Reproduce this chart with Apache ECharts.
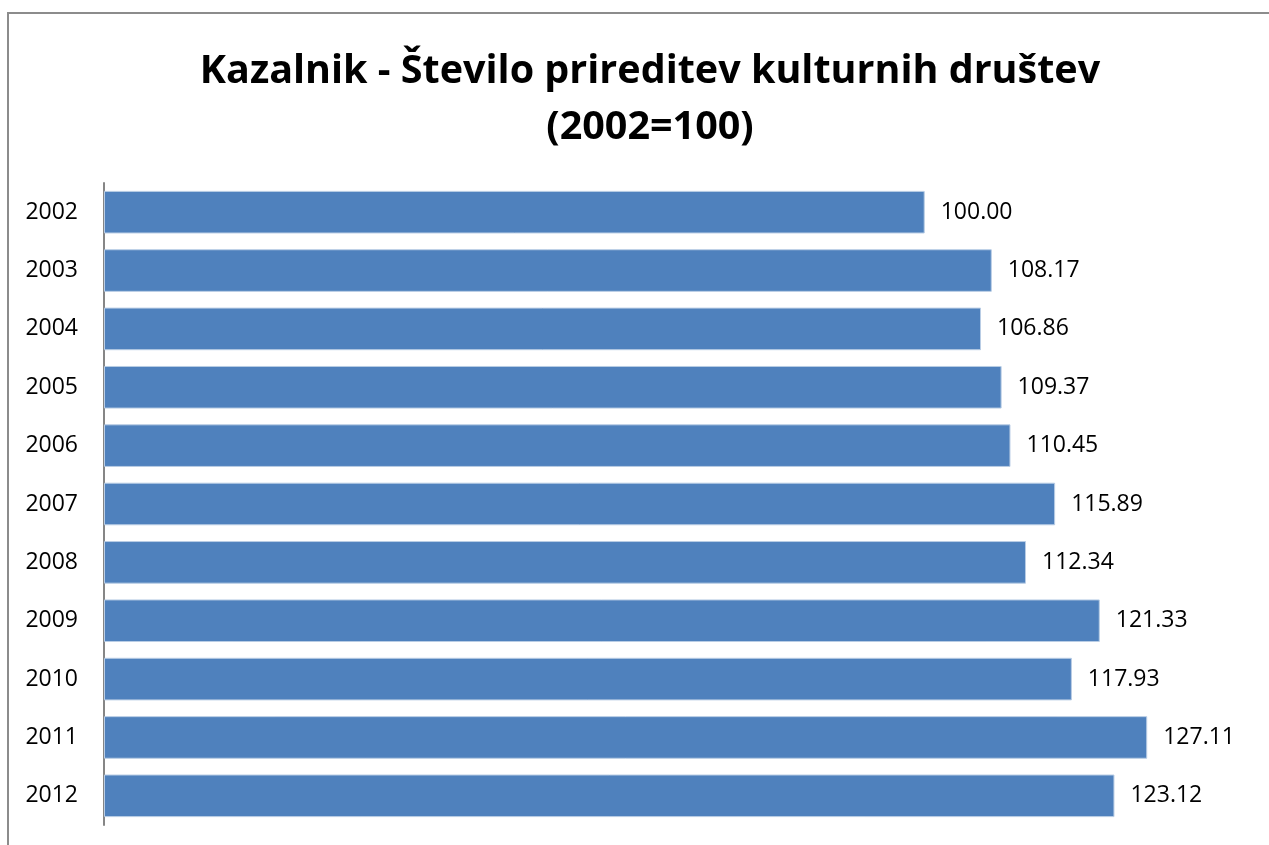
<!DOCTYPE html>
<html>
<head>
<meta charset="utf-8">
<script src="https://cdn.jsdelivr.net/npm/echarts@6/dist/echarts.min.js"></script>
<style>
html, body { margin: 0; padding: 0; background: #fff; }
#chart { width: 1269px; height: 845px; }
</style>
</head>
<body>
<div id="chart"></div>
<script>
// categories (years), top to bottom
var years = ['2002', '2003', '2004', '2005', '2006', '2007', '2008', '2009', '2010', '2011', '2012'];
// index values, 2002 = 100
var indexValues = [100.00, 108.17, 106.86, 109.37, 110.45, 115.89, 112.34, 121.33, 117.93, 127.11, 123.12];

var titleLines = ['Kazalnik - Število prireditev kulturnih društev', '(2002=100)'];

var chart = echarts.init(document.getElementById('chart'));

var option = {
	animation: false,
	title: {
		text: titleLines.join('\n'),
		left: 645,
		textAlign: 'center',
		top: 39,
		textStyle: {
			fontFamily: 'Open Sans',
			fontWeight: 'bold',
			fontSize: 39.5,
			lineHeight: 56,
			color: '#000'
		}
	},
	graphic: [{
		type: 'rect',
		shape: { x: 8, y: 13, width: 1300, height: 900 },
		style: { fill: 'none', stroke: '#8c8c8c', lineWidth: 2 },
		silent: true
	}],
	grid: { left: 104, right: 16, top: 183, bottom: 20, containLabel: false },
	xAxis: {
		type: 'value',
		min: 0,
		max: 140,
		show: false
	},
	yAxis: {
		type: 'category',
		data: years,
		inverse: true,
		axisLine: { show: true, lineStyle: { color: '#868686', width: 2 } },
		axisTick: { show: false },
		axisLabel: {
			margin: 26,
			fontFamily: 'Open Sans',
			fontSize: 23,
			color: '#000'
		}
	},
	series: [{
		type: 'bar',
		data: indexValues,
		barCategoryGap: '27%',
		itemStyle: { color: '#4F81BD', borderColor: '#b9cde5', borderWidth: 1 },
		label: {
			show: true,
			position: 'right',
			distance: 16,
			fontFamily: 'Open Sans',
			fontSize: 23,
			color: '#000',
			formatter: function (p) { return p.value.toFixed(2); }
		}
	}]
};

chart.setOption(option);
</script>
</body>
</html>
